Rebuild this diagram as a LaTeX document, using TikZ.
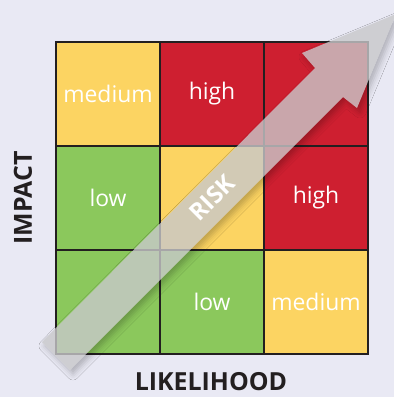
\documentclass[tikz,border=0pt]{standalone}
\usepackage{fontspec}
\setmainfont{Open Sans}
\usetikzlibrary{positioning,shadows.blur}

\definecolor{bgblue}{RGB}{233,233,244}
\definecolor{riskyellow}{RGB}{252,212,98}
\definecolor{riskred}{RGB}{206,31,48}
\definecolor{riskgreen}{RGB}{139,200,92}
\definecolor{griddark}{RGB}{35,31,32}
\definecolor{arrowgray}{RGB}{200,200,202}

\begin{document}
\begin{tikzpicture}[x=1bp,y=-1bp,node distance=104bp,
    cell/.style={rectangle,draw=griddark,line width=2.6bp,minimum width=104bp,minimum height=104bp,
      text=white,font=\fontsize{23}{23}\selectfont},
    med/.style={cell,fill=riskyellow},
    hi/.style={cell,fill=riskred},
    lo/.style={cell,fill=riskgreen},
    axis/.style={text=griddark,font=\bfseries\fontsize{25}{25}\selectfont}]
    \fill[bgblue] (0,0) rectangle (394,397);
    \useasboundingbox (0,0) rectangle (394,397);

    \node[med] (c11) at (108,94) {medium};
    \node[hi]  (c12) [right of=c11] {high};
    \node[hi]  (c13) [right of=c12] {};
    \node[lo]  (c21) [below of=c11] {low};
    \node[med] (c22) [right of=c21] {};
    \node[hi]  (c23) [right of=c22] {high};
    \node[lo]  (c31) [below of=c21] {};
    \node[lo]  (c32) [right of=c31] {low};
    \node[med] (c33) [right of=c32] {medium};

    \node[axis,rotate=90] (impact) at (23,198) {IMPACT};
    \node[axis] (likely) at (211,382) {LIKELIHOOD};

    % risk arrow
    \coordinate (t1) at (42,342);
    \coordinate (n1) at (315,68);
    \coordinate (b1) at (302,53);
    \coordinate (tip) at (396,14);
    \coordinate (b2) at (357,108);
    \coordinate (n2) at (343,97);
    \coordinate (t2) at (70,370);
    \begin{scope}[even odd rule]
      \clip (0,0) rectangle (394,397)
        (t1) -- (n1) -- (b1) -- (tip) -- (b2) -- (n2) -- (t2) -- cycle;
      \path[fill=black,fill opacity=0,
        blur shadow={shadow xshift=3bp,shadow yshift=-4bp,shadow opacity=25,shadow blur radius=6bp}]
        (t1) -- (n1) -- (b1) -- (tip) -- (b2) -- (n2) -- (t2) -- cycle;
    \end{scope}
    \fill[arrowgray,fill opacity=0.8]
      (t1) -- (n1) -- (b1) -- (tip) -- (b2) -- (n2) -- (t2) -- cycle;
    \node[text=white,font=\bfseries\fontsize{24}{24}\selectfont,rotate=45] (risk) at (212,198) {RISK};
\end{tikzpicture}
\end{document}
